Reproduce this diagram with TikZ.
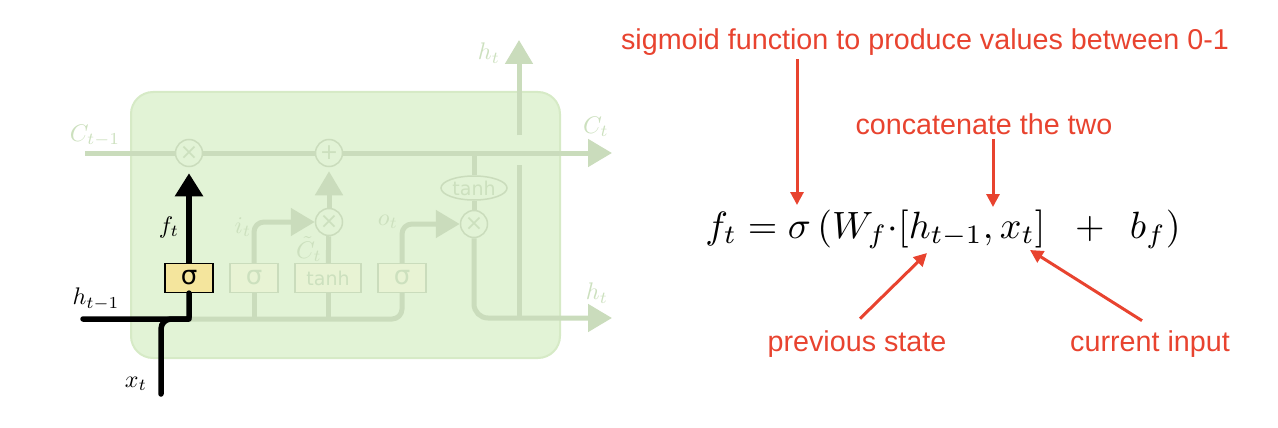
\documentclass[tikz,border=0pt]{standalone}
\usepackage{amsmath}
\usepackage{fontspec}
\newfontfamily\notefont{Liberation Sans}
\newfontfamily\gatefont{DejaVu Sans}
\usetikzlibrary{arrows.meta,positioning,shapes.geometric,calc}

\definecolor{cellfill}{RGB}{226,243,214}
\definecolor{cellborder}{RGB}{214,234,198}
\definecolor{fadeline}{RGB}{202,220,188}
\definecolor{fadetext}{RGB}{204,224,190}
\definecolor{fadegate}{RGB}{232,243,212}
\definecolor{gateyellow}{RGB}{244,229,157}
\definecolor{notered}{RGB}{232,67,47}

\begin{document}
\begin{tikzpicture}[
  x=1pt, y=-1pt,
  fade/.style={draw=fadeline, line width=5pt},
  fadetip/.style={-{Triangle[length=24pt,width=27pt]}},
  opnode/.style={circle, draw=fadeline, fill=cellfill, line width=1.5pt, minimum size=27pt, inner sep=0pt, text=fadetext, font=\gatefont\fontsize{22}{22}\selectfont},
  gatebox/.style={rectangle, draw=fadeline, fill=fadegate, line width=1.2pt, minimum width=48pt, minimum height=29pt, inner sep=0pt, text=fadetext},
  sigfont/.style={font=\gatefont\fontsize{26}{26}\selectfont},
  tanhfont/.style={font=\gatefont\fontsize{19}{19}\selectfont},
  vlabel/.style={scale=2.4, inner sep=0pt},
  note/.style={text=notered, font=\notefont\fontsize{28.7}{32}\selectfont},
  notearrow/.style={draw=notered, line width=3pt, -{Triangle[length=13pt,width=13pt]}},
  boldline/.style={draw=black, line width=5.5pt}
]
  \useasboundingbox (0,0) rectangle (1278,428);

  \draw[draw=cellborder, fill=cellfill, line width=2pt, rounded corners=22pt] (131,92) rectangle (560,358);

  \node[opnode] (fx) at (189,153) {×};
  \node[opnode] (add) at (329,153) {+};
  \node[opnode] (ix) at (329,222) {×};
  \node[opnode] (ox) at (474,224) {×};
  \node[ellipse, draw=fadeline, fill=cellfill, line width=1.5pt, minimum width=66pt, minimum height=24pt, inner sep=0pt, text=fadetext, tanhfont] (tanhop) at (474,188) {tanh};

  \node[gatebox, sigfont, draw=black, fill=gateyellow, text=black] (fgate) at (189,278) {σ};
  \node[gatebox, sigfont] (igate) at (254,278) {σ};
  \node[gatebox, tanhfont, minimum width=66pt] (cgate) at (328,278) {tanh};
  \node[gatebox, sigfont] (ogate) at (402,278) {σ};

  \coordinate (cin) at (85,153);
  \coordinate (cout) at (612,153);
  \coordinate (hin) at (83,319);
  \coordinate (xin) at (161,394);
  \coordinate (hjoin) at (189,319);
  \coordinate (hout) at (612,318);
  \coordinate (htop) at (519,40);
  \coordinate (bridgehi) at (519,135);
  \coordinate (bridgelo) at (519,165);

  \draw[fade] (cin) -- (fx);
  \draw[fade] (fx) -- (add);
  \draw[fade, fadetip] (add) -- (cout);
  \draw[fade] (tanhop.north |- cin) -- (tanhop);
  \draw[fade] (tanhop) -- (ox);
  \draw[fade, fadetip, rounded corners=14pt] (ox) |- (hout);
  \draw[fade] (bridgelo) -- (bridgelo |- hout);
  \draw[fade, fadetip] (bridgehi) -- (htop);
  \draw[fade, rounded corners=10pt] (hjoin) -| (ogate);
  \draw[fade] (igate) -- (igate |- hjoin);
  \draw[fade] (cgate) -- (cgate |- hjoin);
  \draw[fade, fadetip, rounded corners=10pt] (igate) |- (ix);
  \draw[fade] (cgate) -- (ix);
  \draw[fade, fadetip, shorten >=4pt] (ix) -- (add);
  \draw[fade, fadetip, rounded corners=10pt] (ogate) |- (ox);

  \draw[boldline, line cap=round, rounded corners=2pt] (hin) -| (fgate);
  \draw[boldline, line cap=round, rounded corners=10pt] (xin) |- (hjoin);
  \draw[boldline, -{Triangle[length=23pt,width=27pt]}, shorten >=6pt] (fgate) -- (fx);

  \node[vlabel, text=fadetext] (cprev) at (95,136) {$C_{t-1}$};
  \node[vlabel, text=fadetext] (cnext) at (596,127) {$C_t$};
  \node[vlabel, text=fadetext] (hup) at (489,53) {$h_t$};
  \node[vlabel, text=fadetext] (hright) at (597,293) {$h_t$};
  \node[vlabel, text=fadetext] (ilab) at (243,227) {$i_t$};
  \node[vlabel, text=fadetext] (olab) at (388,222) {$o_t$};
  \node[vlabel, text=fadetext] (clab) at (309,249) {$\tilde{C}_t$};
  \node[vlabel] (flab) at (169,227) {$f_t$};
  \node[vlabel] (hprev) at (96,299) {$h_{t-1}$};
  \node[vlabel] (xlab) at (136,384) {$x_t$};

  \node[anchor=base, scale=3.8, inner sep=0pt] (eq) at (943,238) {$f_t = \sigma\,(W_f{\cdot}[h_{t-1}, x_t]\;\;+\;\,b_f)$};

  \node[note, anchor=base] (sig) at (925,50) {sigmoid function to produce values between 0-1};
  \node[note, anchor=base] (cat) at (984,135) {concatenate the two};
  \node[note, anchor=base] (prev) at (857,351) {previous state};
  \node[note, anchor=base] (cur) at (1150,351) {current input};

  \coordinate (sigtip) at (797,205);
  \coordinate (cattip) at (993,207);
  \coordinate (prevtip) at (927,253);
  \coordinate (curtip) at (1030,250);

  \draw[notearrow] (sig.south -| sigtip) -- (sigtip);
  \draw[notearrow] (cat.south -| cattip) -- (cattip);
  \draw[notearrow] ([shift={(3pt,8pt)}]prev.north) -- (prevtip);
  \draw[notearrow] ([shift={(-8pt,6pt)}]cur.north) -- (curtip);
\end{tikzpicture}
\end{document}
